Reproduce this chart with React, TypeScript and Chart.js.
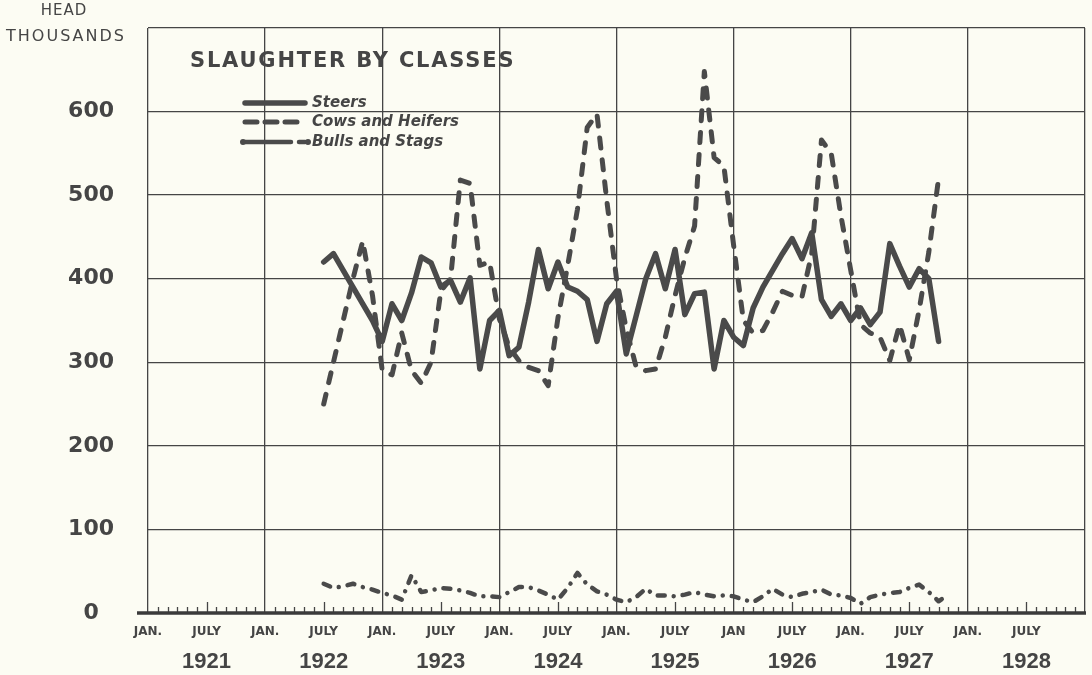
import React, { useEffect, useRef } from "react";
import { Chart, registerables } from "chart.js";

Chart.register(...registerables);

// Month index: 0 = January 1921 ... 96 = January 1929
const FIRST_MONTH = 18; // July 1922

// Steers, head thousands, July 1922 - October 1927
const steers = [
  420, 430, 410, 390, 370, 350,
  325, 370, 350, 383, 426, 419, 390, 398, 372, 401, 292, 350,
  362, 308, 318, 372, 435, 388, 420, 390, 385, 375, 325, 370,
  385, 310, 355, 400, 430, 388, 435, 357, 382, 384, 292, 350,
  330, 320, 365, 390, 410, 430, 448, 424, 455, 375, 355, 370,
  350, 365, 345, 360, 442, 415, 390, 412, 400, 325,
];

// Cows and heifers, July 1922 - October 1927
const cows = [
  250, 300, 350, 400, 445, 380,
  290, 285, 335, 290, 275, 300, 385, 400, 518, 514, 416, 420,
  352, 318, 302, 294, 290, 272, 353, 416, 483, 581, 597, 494,
  400, 340, 295, 290, 292, 330, 380, 425, 463, 648, 545, 535,
  440, 350, 335, 338, 360, 385, 380, 378, 430, 566, 550, 475,
  410, 345, 335, 330, 302, 345, 303, 362, 432, 520,
];

// Bulls and stags, July 1922 - November 1927
const bulls = [
  35, 30, 32, 35, 31, 28,
  24, 21, 16, 45, 25, 27, 30, 29, 27, 24, 20, 20,
  19, 25, 31, 31, 27, 22, 16, 30, 48, 34, 26, 22,
  16, 13, 19, 29, 21, 21, 20, 22, 25, 22, 20, 21,
  20, 16, 13, 20, 29, 22, 19, 23, 25, 28, 22, 21,
  18, 11, 19, 22, 24, 25, 30, 34, 25, 14, 22,
];

const monthTickValues = [0, 6, 12, 18, 24, 30, 36, 42, 48, 54, 60, 66, 72, 78, 84, 90, 96];
const monthTickLabels = [
  "JAN.", "JULY", "JAN.", "JULY", "JAN.", "JULY", "JAN.", "JULY",
  "JAN.", "JULY", "JAN", "JULY", "JAN.", "JULY", "JAN.", "JULY", "",
];
const yearTickValues = [6, 18, 30, 42, 54, 66, 78, 90];
const yearLabels = ["1921", "1922", "1923", "1924", "1925", "1926", "1927", "1928"];
const yTickValues = [0, 100, 200, 300, 400, 500, 600, 700];

const seriesNames = ["Steers", "Cows and Heifers", "Bulls and Stags"];

const INK = "#454545";
const LINE = "#4a4a4a";
const BG = "#fcfcf3";

const COW_DASH = [10, 12];
const BULL_DASH = [7, 9, 0.01, 9];

const toPoints = (arr: number[]) => arr.map((v, i) => ({ x: FIRST_MONTH + i, y: v }));

const zeroPad = (scale: any) => {
  scale.paddingTop = 0;
  scale.paddingBottom = 0;
  scale.paddingLeft = 0;
  scale.paddingRight = 0;
};

const decorPlugin = {
  id: "decor",
  beforeDatasetsDraw(chart: any) {
    const ctx = chart.ctx;
    const { left, right, bottom } = chart.chartArea;
    const xs = chart.scales.x;
    ctx.save();
    ctx.strokeStyle = INK;
    ctx.lineWidth = 1.3;
    for (let m = 1; m < 96; m++) {
      if (m % 12 === 0) continue;
      const x = Math.round(xs.getPixelForValue(m)) + 0.5;
      const len = m % 6 === 0 ? 11 : 6;
      ctx.beginPath();
      ctx.moveTo(x, bottom);
      ctx.lineTo(x, bottom - len);
      ctx.stroke();
    }
    ctx.lineWidth = 3.5;
    ctx.strokeStyle = "#3a3a3a";
    ctx.beginPath();
    ctx.moveTo(left - 11, bottom);
    ctx.lineTo(right + 1, bottom);
    ctx.stroke();
    ctx.restore();
  },
  afterDraw(chart: any) {
    const ctx = chart.ctx;
    ctx.save();
    ctx.fillStyle = INK;
    ctx.textBaseline = "middle";
    // unit label
    ctx.textAlign = "center";
    ctx.font = '15px "DejaVu Sans"';
    (ctx as any).letterSpacing = "1px";
    ctx.fillText("HEAD", 64, 11);
    ctx.font = '16px "DejaVu Sans"';
    (ctx as any).letterSpacing = "2px";
    ctx.fillText("THOUSANDS", 66, 37);
    // title
    ctx.textAlign = "left";
    ctx.font = 'bold 21px "DejaVu Sans"';
    (ctx as any).letterSpacing = "1.8px";
    ctx.fillText("SLAUGHTER BY CLASSES", 190, 62);
    (ctx as any).letterSpacing = "0px";
    // legend
    const rows = [103, 122, 142];
    const x0 = 245;
    const x1 = 305;
    ctx.strokeStyle = LINE;
    ctx.lineCap = "round";
    rows.forEach((y, i) => {
      ctx.beginPath();
      ctx.lineWidth = i === 0 ? 5.5 : i === 1 ? 5 : 4.5;
      ctx.setLineDash(i === 0 ? [] : i === 1 ? [12, 8] : [46, 8]);
      ctx.moveTo(x0, y);
      ctx.lineTo(x1, y);
      ctx.stroke();
      if (i === 2) {
        ctx.setLineDash([]);
        ctx.fillStyle = LINE;
        ctx.beginPath();
        ctx.arc(x0 - 2, y, 3, 0, Math.PI * 2);
        ctx.arc(x1 + 3, y, 3, 0, Math.PI * 2);
        ctx.fill();
      }
      ctx.setLineDash([]);
      ctx.fillStyle = INK;
      ctx.font = 'italic bold 15px "DejaVu Sans"';
      ctx.fillText(seriesNames[i], 312, y);
    });
    ctx.restore();
  },
};

export default function App() {
  const ref = useRef<HTMLCanvasElement | null>(null);

  useEffect(() => {
    if (!ref.current) return;
    const chart = new Chart(ref.current, {
      type: "line",
      data: {
        datasets: [
          {
            label: seriesNames[0],
            data: toPoints(steers),
            borderColor: LINE,
            borderWidth: 5.5,
            borderJoinStyle: "round",
            borderCapStyle: "round",
            pointRadius: 0,
            tension: 0,
          },
          {
            label: seriesNames[1],
            data: toPoints(cows),
            borderColor: LINE,
            borderWidth: 5,
            borderDash: COW_DASH,
            borderCapStyle: "round",
            borderJoinStyle: "round",
            pointRadius: 0,
            tension: 0,
          },
          {
            label: seriesNames[2],
            data: toPoints(bulls),
            borderColor: LINE,
            borderWidth: 4.5,
            borderDash: BULL_DASH,
            borderCapStyle: "round",
            borderJoinStyle: "round",
            pointRadius: 0,
            tension: 0,
          },
        ],
      },
      options: {
        animation: false,
        responsive: true,
        maintainAspectRatio: false,
        layout: { padding: { top: 28, right: 7, left: 0, bottom: 0 } },
        plugins: {
          legend: { display: false },
          tooltip: { enabled: false },
          title: { display: false },
        },
        scales: {
          x: {
            type: "linear",
            position: "bottom",
            min: 0,
            max: 96,
            afterBuildTicks: (scale: any) => {
              scale.ticks = monthTickValues.map((v) => ({ value: v }));
            },
            afterFit: (scale: any) => {
              scale.height = 30;
              zeroPad(scale);
            },
            ticks: {
              autoSkip: false,
              maxRotation: 0,
              padding: 12,
              color: INK,
              font: { family: "DejaVu Sans", size: 12, weight: "bold" },
              callback: (_v: any, i: number) => monthTickLabels[i],
            },
            grid: {
              drawTicks: false,
              color: (c: any) => (c.tick && c.tick.value % 12 === 0 ? INK : "rgba(0,0,0,0)"),
              lineWidth: 1.3,
            },
            border: { display: false },
          },
          x2: {
            type: "linear",
            position: "bottom",
            min: 0,
            max: 96,
            afterBuildTicks: (scale: any) => {
              scale.ticks = yearTickValues.map((v) => ({ value: v }));
            },
            afterFit: (scale: any) => {
              scale.height = 32;
              zeroPad(scale);
            },
            ticks: {
              autoSkip: false,
              maxRotation: 0,
              padding: 6,
              color: INK,
              font: { family: "Liberation Sans", size: 22, weight: "bold" },
              callback: (_v: any, i: number) => yearLabels[i],
            },
            grid: { display: false, drawTicks: false },
            border: { display: false },
          },
          y: {
            type: "linear",
            min: 0,
            max: 700,
            afterBuildTicks: (scale: any) => {
              scale.ticks = yTickValues.map((v) => ({ value: v }));
            },
            afterFit: (scale: any) => {
              scale.width = 148;
              zeroPad(scale);
            },
            ticks: {
              padding: 34,
              crossAlign: "center",
              color: INK,
              font: { family: "DejaVu Sans", size: 22, weight: "bold" },
              callback: (v: any) => (v === 700 ? "" : String(v)),
            },
            grid: { drawTicks: false, color: INK, lineWidth: 1.3 },
            border: { display: false },
          },
        },
      },
      plugins: [decorPlugin],
    });
    return () => chart.destroy();
  }, []);

  return (
    <div
      style={{
        position: "fixed",
        left: 0,
        top: 0,
        width: 1092,
        height: 675,
        background: BG,
      }}
    >
      <canvas ref={ref} />
    </div>
  );
}
